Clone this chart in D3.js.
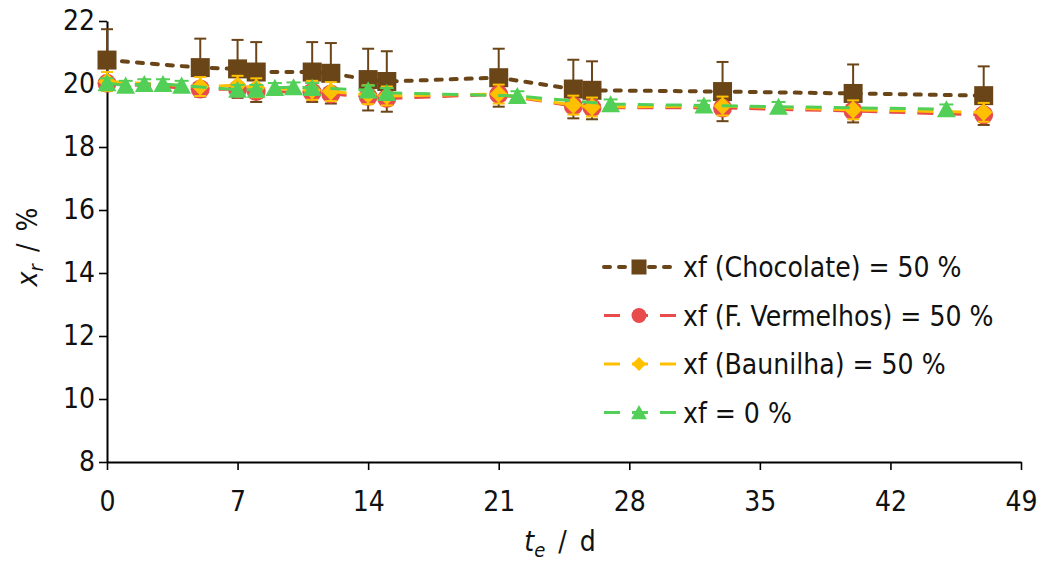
<!DOCTYPE html>
<html>
<head>
<meta charset="utf-8">
<script src="https://cdn.jsdelivr.net/npm/d3@7"></script>
<style>
  html, body { margin: 0; padding: 0; background: #fff; }
  svg { display: block; }
  text { font-family: "DejaVu Sans Condensed", "DejaVu Sans", sans-serif; fill: #111; }
</style>
</head>
<body>
<svg id="chart" width="1041" height="564"></svg>
<script>
// Storage time (days) and residual moisture for each formulation
const tChoc   = [0, 5, 7, 8, 11, 12, 14, 15, 21, 25, 26, 33, 40, 47];
const xrChoc  = [20.76, 20.52, 20.48, 20.38, 20.38, 20.34, 20.14, 20.08, 20.20, 19.84, 19.80, 19.76, 19.70, 19.63];
const errChoc = [0.98, 0.92, 0.92, 0.95, 0.95, 0.96, 0.98, 0.96, 0.92, 0.93, 0.92, 0.94, 0.92, 0.93];

const tRed    = [0, 5, 7, 8, 11, 12, 14, 15, 21, 25, 26, 33, 40, 47];
const xrRed   = [20.02, 19.84, 19.83, 19.76, 19.74, 19.68, 19.60, 19.54, 19.67, 19.30, 19.25, 19.24, 19.14, 19.02];

const tVan    = [0, 5, 7, 8, 11, 12, 14, 15, 21, 25, 26, 33, 40, 47];
const xrVan   = [20.08, 19.92, 19.96, 19.88, 19.80, 19.76, 19.66, 19.62, 19.68, 19.33, 19.27, 19.30, 19.18, 19.10];
const errVan  = [0.30, 0.30, 0.30, 0.30, 0.30, 0.30, 0.30, 0.30, 0.30, 0.30, 0.30, 0.30, 0.30, 0.30];

const tZero   = [0, 1, 2, 3, 4, 7, 8, 9, 10, 11, 14, 15, 22, 27, 32, 36, 45];
const xrZero  = [20.03, 19.95, 20.00, 20.00, 19.95, 19.82, 19.82, 19.88, 19.90, 19.88, 19.80, 19.72, 19.62, 19.36, 19.32, 19.28, 19.20];
const errZero = [0.15, 0.15, 0.15, 0.15, 0.15, 0.15, 0.15, 0.15, 0.15, 0.15, 0.15, 0.15, 0.15, 0.15, 0.15, 0.15, 0.15];

const xTicks = [0, 7, 14, 21, 28, 35, 42, 49];
const yTicks = [8, 10, 12, 14, 16, 18, 20, 22];

const legendLabels = ["xf (Chocolate) = 50 %", "xf (F. Vermelhos) = 50 %", "xf (Baunilha) = 50 %", "xf = 0 %"];

const colors = { choc: "#6A4518", red: "#E84B4B", van: "#FFC000", zero: "#52CF57" };

const svg = d3.select("#chart");

const x = d3.scaleLinear().domain([0, 49]).range([107, 1021]);
const y = d3.scaleLinear().domain([8, 22]).range([462, 21]);

// Marker shapes
function markerPath(kind, s) {
  if (kind === "square") return `M${-s},${-s}H${s}V${s}H${-s}Z`;
  if (kind === "circle") return `M${-s},0A${s},${s} 0 1,0 ${s},0A${s},${s} 0 1,0 ${-s},0Z`;
  if (kind === "diamond") return `M0,${-s}L${s},0L0,${s}L${-s},0Z`;
  if (kind === "triangle") return `M0,${-s}L${s * 1.05},${s * 0.9}L${-s * 1.05},${s * 0.9}Z`;
}

const series = [
  { t: tChoc, v: xrChoc, err: errChoc, color: colors.choc, marker: "square", size: 9.5, dash: "6,9", cap: "round", width: 4 },
  { t: tRed,  v: xrRed,  err: null,    color: colors.red,  marker: "circle", size: 9.5, dash: "16,12", cap: "butt", width: 3 },
  { t: tVan,  v: xrVan,  err: errVan,  color: colors.van,  marker: "diamond", size: 9, dash: "16,12", cap: "butt", width: 3 },
  { t: tZero, v: xrZero, err: errZero, color: colors.zero, marker: "triangle", size: 9, dash: "16,12", cap: "butt", width: 3 }
];

const FONT = '"DejaVu Sans Condensed", "DejaVu Sans", sans-serif';

// Axes
const xAxis = svg.append("g")
  .attr("transform", `translate(0,${y(8)})`)
  .call(d3.axisBottom(x).tickValues(xTicks).tickSize(8).tickSizeOuter(0).tickPadding(21).tickFormat(d3.format("d")));
const yAxis = svg.append("g")
  .attr("transform", `translate(${x(0)},0)`)
  .call(d3.axisLeft(y).tickValues(yTicks).tickSize(8).tickSizeOuter(0).tickPadding(4).tickFormat(d3.format("d")));

[xAxis, yAxis].forEach(g => {
  g.select(".domain").attr("stroke", "#000").attr("stroke-width", 2);
  g.selectAll(".tick line").attr("stroke", "#000").attr("stroke-width", 1.6);
  g.selectAll(".tick text").attr("font-size", 28).attr("fill", "#111").style("font-family", FONT);
});

// Series: line, error bars, markers
const plot = svg.append("g");
series.forEach(s => {
  const pts = s.t.map((t, i) => ({ t, v: s.v[i], e: s.err ? s.err[i] : 0 }));
  const line = d3.line().x(d => x(d.t)).y(d => y(d.v));
  plot.append("path")
    .datum(pts)
    .attr("d", line)
    .attr("fill", "none")
    .attr("stroke", s.color)
    .attr("stroke-width", s.width)
    .attr("stroke-dasharray", s.dash)
    .attr("stroke-linecap", s.cap);

  if (s.err) {
    const eb = plot.append("g").attr("stroke", s.color).attr("stroke-width", 2);
    pts.forEach(d => {
      const cx = x(d.t), y1 = y(d.v + d.e), y2 = y(d.v - d.e);
      const hw = s.marker === "triangle" ? 7 : 6;
      eb.append("line").attr("x1", cx).attr("x2", cx).attr("y1", y1).attr("y2", y2);
      eb.append("line").attr("x1", cx - hw).attr("x2", cx + hw).attr("y1", y1).attr("y2", y1);
      eb.append("line").attr("x1", cx - hw).attr("x2", cx + hw).attr("y1", y2).attr("y2", y2);
    });
  }

  plot.selectAll(null)
    .data(pts)
    .enter()
    .append("path")
    .attr("transform", d => `translate(${x(d.t)},${y(d.v)})`)
    .attr("d", markerPath(s.marker, s.size))
    .attr("fill", s.color);
});

// Axis titles
const xt = svg.append("text")
  .attr("x", 560).attr("y", 551)
  .attr("text-anchor", "middle")
  .attr("font-size", 28)
  .style("font-family", FONT);
xt.append("tspan").attr("font-style", "italic").text("t");
xt.append("tspan").attr("font-style", "italic").attr("font-size", 20).attr("dy", 6).text("e");
xt.append("tspan").attr("dy", -6).attr("dx", 13).text("/");
xt.append("tspan").attr("dx", 13).text("d");

const yt = svg.append("text")
  .attr("transform", "translate(37,247) rotate(-90)")
  .attr("text-anchor", "middle")
  .attr("font-size", 28)
  .style("font-family", FONT);
yt.append("tspan").attr("font-style", "italic").text("x");
yt.append("tspan").attr("font-style", "italic").attr("font-size", 20).attr("dy", 6).text("r");
yt.append("tspan").attr("dy", -6).attr("dx", 12).text("/");
yt.append("tspan").attr("dx", 12).text("%");

// Legend
const legendY = [267, 315.5, 364, 412.5];
const legendSize = [7.5, 7.5, 7, 7.5];
const legend = svg.append("g");
series.forEach((s, i) => {
  const ly = legendY[i];
  legend.append("line")
    .attr("x1", 604).attr("x2", 676).attr("y1", ly).attr("y2", ly)
    .attr("stroke", s.color).attr("stroke-width", s.width)
    .attr("stroke-dasharray", s.dash).attr("stroke-linecap", s.cap);
  legend.append("path")
    .attr("transform", `translate(639,${ly})`)
    .attr("d", markerPath(s.marker, legendSize[i]))
    .attr("fill", s.color);
  legend.append("text")
    .attr("x", 683).attr("y", ly).attr("dy", "0.36em")
    .attr("font-size", 28)
    .style("font-family", FONT)
    .text(legendLabels[i]);
});
</script>
</body>
</html>
